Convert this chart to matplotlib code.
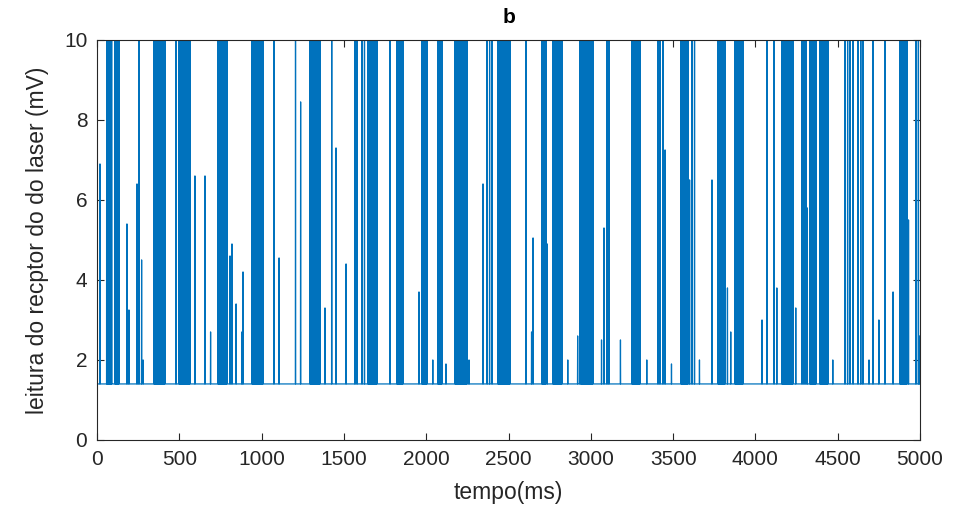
import numpy as np
import matplotlib.pyplot as plt

plt.rcParams['font.family'] = ['Liberation Sans', 'DejaVu Sans']

# leitura do receptor (mV)
baseline = 1.4

# intervalos de saturação (ms)
burst_start = [59, 109, 346, 498, 735, 942, 1294, 1646, 1822, 1974, 2071, 2175,
               2436, 2703, 2770, 2940, 3250, 3548, 3773, 3876, 4161, 4331, 4392, 4878]
burst_end = [89, 134, 413, 565, 790, 1009, 1355, 1701, 1859, 2005, 2096, 2248,
             2509, 2728, 2825, 3013, 3299, 3590, 3815, 3924, 4228, 4368, 4441, 4921]

# picos isolados que passam de 10 mV
top_t = [255, 480, 1075, 1206, 1426, 1567, 1580, 1610, 1625, 1780, 2370, 2385,
         2400, 2606, 2934, 3098, 3110, 3408, 3420, 3438, 3615, 3630, 4070, 4113,
         4283, 4295, 4307, 4544, 4560, 4574, 4593, 4623, 4640, 4653, 4714, 4787,
         4975, 4990]
top_h = [12.0] * len(top_t)

# picos parciais
spike_t = [18, 182, 194, 243, 271, 280, 595, 656, 690, 808, 820, 845, 880, 887,
           1106, 1237, 1385, 1452, 1513, 1956, 2040, 2120, 2260, 2345, 2640, 2649,
           2735, 2860, 2920, 3065, 3080, 3180, 3340, 3451, 3490, 3600, 3660, 3736,
           3830, 3850, 4040, 4130, 4245, 4315, 4470, 4690, 4750, 4836, 4930, 4998]
spike_h = [6.9, 5.4, 3.25, 6.4, 4.5, 2.0, 6.6, 6.6, 2.7, 4.6, 4.9, 3.4, 2.7, 4.2,
           4.55, 8.45, 3.3, 7.3, 4.4, 3.7, 2.0, 1.9, 2.0, 6.4, 2.7, 5.05,
           4.9, 2.0, 2.6, 2.5, 5.3, 2.5, 2.0, 7.25, 1.9, 6.5, 2.0, 6.5,
           3.8, 2.7, 3.0, 3.8, 3.3, 5.8, 2.0, 2.0, 3.0, 3.7, 5.5, 2.6]

t = np.arange(0, 5001)
y = np.full(t.shape, baseline)
for s, e in zip(burst_start, burst_end):
    y[s:e + 1:2] = 12.0
for ti, h in zip(top_t + spike_t, top_h + spike_h):
    y[ti] = h

fig = plt.figure(figsize=(9.7, 5.25), dpi=100)
ax = fig.add_axes([0.1, 0.162, 0.8485, 0.762])
ax.plot(t, y, color='#0072BD', linewidth=0.9)

ax.set_xlim(0, 5000)
ax.set_ylim(0, 10)
ax.set_xticks(np.arange(0, 5001, 500))
ax.set_yticks(np.arange(0, 11, 2))
ax.tick_params(direction='in', top=True, right=True, labelsize=15,
               colors='#262626', length=5, pad=7)
for sp in ax.spines.values():
    sp.set_color('#262626')
    sp.set_linewidth(0.8)

ax.set_title('b', fontsize=15, fontweight='bold', pad=12)
ax.set_xlabel('tempo(ms)', fontsize=16.5, color='#262626', labelpad=9)
ax.set_ylabel('leitura do recptor do do laser (mV)', fontsize=16.5,
              color='#262626', labelpad=11)

fig.savefig('out.png', dpi=100)
